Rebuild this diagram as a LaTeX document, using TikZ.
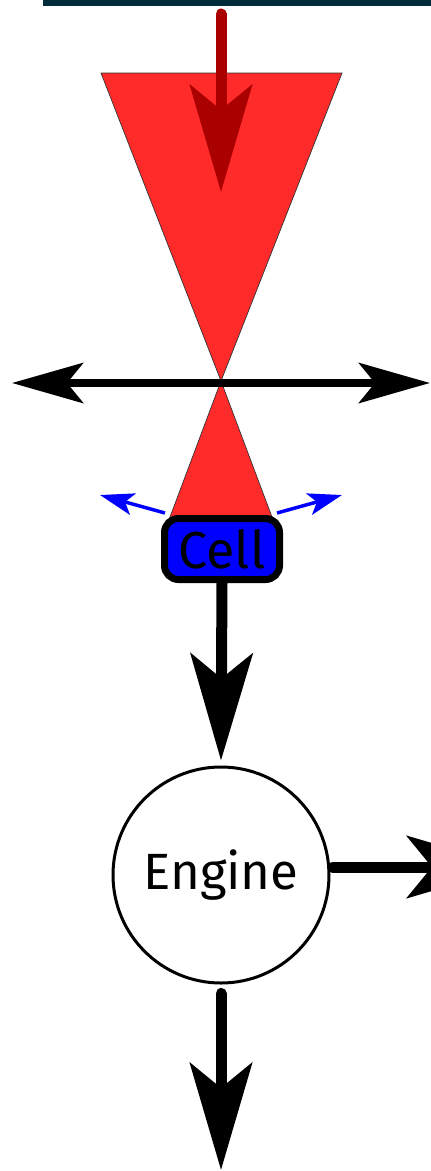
\documentclass[tikz,border=0pt]{standalone}
\usepackage{fontspec}
\setmainfont{Fira Sans}
\usetikzlibrary{arrows.meta}
\definecolor{barnavy}{HTML}{022B3A}
\definecolor{conered}{HTML}{FF2A2A}
\definecolor{darkred}{HTML}{AA0000}
\definecolor{cellblue}{HTML}{0000FF}
\tikzset{
  bigarrow/.style={line width=11pt, line cap=round,
    -{Stealth[length=107pt, width=62pt, inset=25pt]}},
  cellbox/.style={draw=black, fill=cellblue, line width=7pt, rounded corners=14pt,
    minimum width=115pt, minimum height=61pt, inner sep=0pt,
    font=\fontsize{52}{60}\selectfont},
  enginecirc/.style={circle, draw=black, fill=white, line width=3pt,
    minimum size=216pt, inner sep=0pt, font=\fontsize{51}{60}\selectfont},
  sidearrow/.style={cellblue, line width=3.5pt,
    -{Stealth[length=34pt, width=22pt, inset=8pt]}},
}
\begin{document}
\begin{tikzpicture}[x=1pt, y=-1pt]
  \useasboundingbox (0,0) rectangle (431,1171);
  % bar along the top edge
  \fill[barnavy] (43,0) rectangle (431,6);
  % light cone: wide upper part and narrow lower part through the focus
  \coordinate (focus) at (221,381);
  \filldraw[conered, draw=black!80, line width=0.7pt] (101,73) -- (342,73) -- (focus) -- cycle;
  \filldraw[conered, draw=black!80, line width=0.7pt] (focus) -- (275,525) -- (167,525) -- cycle;
  % incoming beam
  \coordinate (beamtop) at (221,14);
  \coordinate (beamtip) at (221,192);
  \draw[bigarrow, darkred] (beamtop) -- (beamtip);
  % horizontal double arrow through the focus
  \coordinate (hl) at (12,383);
  \coordinate (hr) at (430,383);
  \draw[line width=8pt, {Stealth[length=71pt, width=40pt, inset=16pt]}-{Stealth[length=71pt, width=40pt, inset=16pt]}] (hl) -- (hr);
  % small blue arrows beside the cell
  \coordinate (bl0) at (165,513);
  \coordinate (bl1) at (100,495);
  \coordinate (br0) at (277,513);
  \coordinate (br1) at (342,495);
  \draw[sidearrow] (bl0) -- (bl1);
  \draw[sidearrow] (br0) -- (br1);
  % cell and engine
  \node[cellbox] (cell) at (222,549) {Cell};
  \node[enginecirc] (engine) at (221,875) {Engine};
  \draw[bigarrow, line cap=butt] (cell.south) -- ([yshift=5pt]engine.north);
  % outputs of the engine
  \coordinate (eright) at (514,867);
  \coordinate (ebottom) at (221,1170);
  \draw[bigarrow] ([xshift=2pt, yshift=8pt]engine.east) -- (eright);
  \draw[bigarrow] ([yshift=-9pt]engine.south) -- (ebottom);
\end{tikzpicture}
\end{document}
